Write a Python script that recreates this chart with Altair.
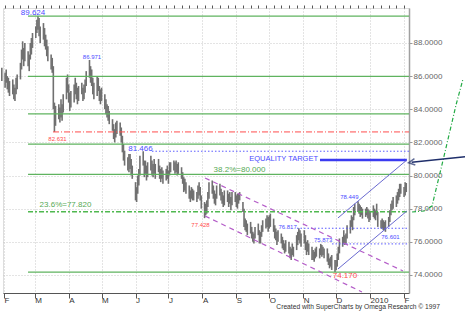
import altair as alt
import pandas as pd

FONT = "Liberation Sans"

# Daily low / high (Jan 30 2009 .. Feb 3 2010, weekdays)
LOWS = [
    85.7,
    85.3, 85.6, 85.2, 85.0, 84.8,
    84.9, 84.6, 84.5, 84.9, 85.2,
    85.8, 86.4, 87.0, 86.6, 86.9,
    86.6, 86.3, 87.0, 87.3, 87.7,
    88.3, 88.6, 88.8, 88.4, 88.0,
    88.2, 87.8, 87.6, 87.2, 86.9,
    86.4, 86.2, 84.0, 82.631, 83.0,
    83.4, 83.2, 83.5, 83.3, 83.8,
    84.6, 85.0, 84.4, 83.9, 84.1,
    84.4, 84.9, 84.6, 84.3, 84.5,
    84.9, 84.5, 84.6, 85.0, 85.4,
    85.9, 85.6, 85.4, 84.9, 84.6,
    84.8, 85.1, 84.5, 84.3, 84.5,
    84.0, 83.7, 83.5, 83.3, 83.1,
    82.7, 82.2, 82.0, 82.3, 82.5,
    82.4, 82.0, 81.4, 80.9, 80.6,
    80.3, 80.2, 80.4, 80.0, 79.8,
    78.5, 78.4, 78.9, 79.4, 80.0,
    80.6, 79.9, 80.1, 79.7, 79.9,
    80.3, 80.0, 79.9, 80.1, 79.8,
    80.2, 79.8, 79.6, 79.8, 79.5,
    79.7, 79.8, 79.5, 80.0, 80.2,
    80.3, 80.1, 80.2, 80.0, 80.1,
    79.8, 79.5, 79.0, 79.1, 78.9,
    78.6, 78.4, 78.6, 78.5, 78.5,
    78.4, 78.6, 78.8, 78.5, 78.0,
    77.428, 77.6, 77.7, 78.1, 78.6,
    78.9, 78.6, 78.3, 78.2, 78.6,
    78.8, 78.5, 78.3, 78.1, 78.2,
    78.4, 78.1, 78.3, 77.9, 78.2,
    78.4, 78.1, 78.0, 78.3, 78.5,
    77.8, 76.9, 76.7, 76.6, 76.4,
    76.5, 76.2, 76.0, 75.9, 76.2,
    76.4, 75.9, 75.9, 76.3, 76.6,
    76.8, 76.9, 76.6, 76.8, 76.9,
    76.6, 76.2, 76.1, 75.8, 76.0,
    75.9, 75.6, 75.5, 75.3, 75.4,
    75.3, 75.0, 74.9, 75.2, 75.1,
    75.5, 75.8, 76.1, 75.9, 75.7,
    75.9, 75.5, 75.2, 75.4, 75.2,
    74.9, 74.9, 74.8, 75.0, 75.1,
    75.0, 75.2, 75.1, 75.2, 75.0,
    74.8, 74.6, 74.4, 74.5, 74.3,
    74.17, 74.3, 74.5, 74.9, 75.3,
    75.7, 75.9, 75.8, 75.9, 76.2,
    76.5, 76.9, 76.7, 77.3, 77.6,
    77.8, 77.7, 77.5, 77.6, 77.4,
    77.5, 77.6, 77.4, 77.2, 77.3,
    77.5, 77.4, 77.3, 77.6, 76.9,
    76.8, 76.8, 76.7, 76.7, 76.601,
    76.9, 77.2, 77.6, 77.9, 78.0,
    78.1, 78.3, 78.5, 78.7, 78.9,
    78.7, 78.8, 79.0,
]
HIGHS = [
    86.5,
    86.2, 86.4, 86.0, 85.9, 85.7,
    85.8, 85.5, 85.3, 85.9, 86.1,
    86.8, 87.6, 88.1, 87.7, 88.0,
    87.5, 87.3, 88.0, 88.3, 88.6,
    89.0, 89.4, 89.624, 89.5, 89.0,
    89.2, 88.9, 88.5, 88.2, 87.8,
    87.3, 87.1, 86.6, 84.4, 84.2,
    84.3, 84.1, 84.6, 84.3, 84.9,
    85.9, 86.1, 85.5, 85.0, 85.1,
    85.5, 85.9, 85.6, 85.3, 85.4,
    85.6, 85.3, 85.5, 85.8, 86.3,
    86.971, 86.6, 86.4, 85.9, 85.6,
    86.0, 85.9, 85.4, 85.2, 85.3,
    84.9, 84.6, 84.3, 84.2, 83.9,
    83.4, 83.1, 82.8, 83.2, 83.3,
    83.2, 82.9, 82.4, 81.9, 81.5,
    81.1, 81.3, 81.3, 81.0, 80.6,
    79.6, 79.3, 80.0, 80.4, 81.2,
    81.466, 80.9, 80.9, 80.6, 80.8,
    81.2, 80.9, 80.7, 81.0, 80.7,
    81.0, 80.6, 80.4, 80.5, 80.3,
    80.4, 80.6, 80.3, 80.8, 80.8,
    80.9, 80.8, 80.9, 80.7, 80.8,
    80.5, 80.2, 79.9, 79.8, 79.6,
    79.4, 79.1, 79.3, 79.2, 79.1,
    79.0, 79.4, 79.6, 79.3, 78.8,
    78.4, 78.3, 78.5, 79.0, 79.6,
    79.7, 79.4, 79.1, 78.9, 79.4,
    79.5, 79.2, 79.0, 78.8, 79.1,
    79.1, 78.9, 79.0, 78.7, 79.0,
    79.0, 78.8, 78.9, 78.9, 79.0,
    78.4, 78.0, 77.4, 77.3, 77.1,
    77.2, 76.9, 76.6, 76.5, 76.9,
    77.1, 76.7, 76.6, 77.0, 77.3,
    77.4, 77.6, 77.5, 77.6, 77.7,
    77.4, 77.0, 76.8, 76.6, 76.7,
    76.5, 76.3, 76.1, 75.9, 76.1,
    76.0, 75.7, 75.6, 75.9, 75.7,
    76.4, 76.6, 76.817, 76.7, 76.5,
    76.7, 76.4, 76.0, 76.1, 75.9,
    75.7, 75.5, 75.4, 75.6, 75.7,
    75.6, 75.873, 75.8, 75.7, 75.6,
    75.6, 75.3, 75.0, 75.1, 75.2,
    74.9, 74.9, 75.3, 75.7, 76.2,
    76.3, 76.7, 76.4, 76.5, 77.0,
    77.3, 77.6, 77.5, 78.1, 78.3,
    78.449, 78.3, 78.2, 78.1, 78.0,
    78.0, 78.1, 78.0, 77.9, 77.8,
    78.2, 78.0, 77.9, 78.3, 77.8,
    77.3, 77.4, 77.3, 77.2, 77.3,
    77.5, 77.9, 78.3, 78.5, 78.7,
    78.8, 79.0, 79.2, 79.5, 79.5,
    79.3, 79.6, 79.55,
]

# Fibonacci retracement levels (solid green) and 23.6% (dash-dot green)
FIB_SOLID = [89.624, 85.98, 83.72, 81.90, 80.07, 74.170]
FIB_236 = [77.82]
FIB_START = "2009-02-22T22:00:00"
RED_LEVEL = [82.631]
RED_START = "2009-03-17T17:00:00"
BLUE_DOT_LEVELS = [81.466, 76.817, 75.873]
BLUE_DOT_STARTS = ["2009-06-16T00:00:00", "2009-10-26T07:00:00", "2009-11-27T07:00:00"]
TARGET_LEVEL = [80.93]
TARGET_START = "2009-11-16T07:00:00"
TARGET_END = "2010-02-03T14:00:00"
END = "2010-02-05T12:00:00"

# Trend channels (date, price)
PURPLE_ID = ["u", "u", "l", "l"]
PURPLE_D = ["2009-08-03T10:00:00", "2010-01-31T01:00:00", "2009-08-03T10:00:00", "2009-12-24T14:00:00"]
PURPLE_P = [79.85, 74.24, 77.56, 72.97]
BLUE_ID = ["u", "u", "l", "l"]
BLUE_D = ["2009-12-02T17:00:00", "2010-02-03T14:00:00", "2009-12-02T17:00:00", "2010-02-03T14:00:00"]
BLUE_P = [77.44, 80.94, 74.36, 77.86]

# Projection curve (green) and arrow (navy), right of the price axis
PROJ_D = ["2010-02-08T07:00:00", "2010-02-19T05:00:00", "2010-02-26T12:00:00",
          "2010-03-09T12:00:00", "2010-03-20T10:00:00", "2010-03-26T19:00:00"]
PROJ_P = [77.80, 77.86, 78.16, 81.18, 84.26, 85.83]
ARROW_D = ["2010-03-28T14:00:00", "2010-02-08T00:00:00"]
ARROW_P = [81.14, 80.80]

XS = alt.Scale(domain=[alt.DateTime(year=2009, month=1, date=31, hours=2),
                       alt.DateTime(year=2010, month=2, date=5, hours=12)], nice=False)
YS = alt.Scale(domain=[72.91, 90.11], nice=False, zero=False)

dates = pd.bdate_range("2009-01-30", periods=len(LOWS))
bars_df = pd.DataFrame({"date": dates.strftime("%Y-%m-%dT%H:%M:%S"), "low": LOWS, "high": HIGHS})

month_vals = [alt.DateTime(year=2009, month=m, date=1) for m in range(2, 13)] + \
             [alt.DateTime(year=2010, month=1, date=1), alt.DateTime(year=2010, month=2, date=1)]
week_vals = [alt.DateTime(year=d.year, month=d.month, date=d.day)
             for d in pd.date_range("2009-02-02", "2010-02-01", freq="7D")]

x_axis = alt.Axis(values=month_vals, title=None, orient="bottom",
                  labelExpr="month(datum.value) == 0 ? timeFormat(datum.value, '%Y') : slice(timeFormat(datum.value, '%b'), 0, 1)",
                  labelAlign="left", labelPadding=-2, labelFontSize=8, labelFont=FONT, labelColor="#333",
                  tickSize=5, tickColor="#555", domainColor="#555", domainWidth=1,
                  grid=True, gridDash=[1, 2], gridColor="#c8c8c8", labelFlush=False, labelOverlap=False)
y_axis = alt.Axis(values=[74, 76, 78, 80, 82, 84, 86, 88], format=".4f", orient="right", title=None,
                  labelFontSize=8, labelFont=FONT, labelColor="#666", labelPadding=1,
                  tickSize=3, tickColor="#999", domainColor="#a0a0a0", domainWidth=1.5,
                  grid=True, gridDash=[1, 2], gridColor="#c8c8c8")

bars = alt.Chart(bars_df).mark_rule(color="#707070", strokeWidth=1.6).encode(
    x=alt.X("date:T", scale=XS, axis=x_axis),
    y=alt.Y("low:Q", scale=YS, axis=y_axis),
    y2="high:Q",
)

minor = alt.Chart(pd.DataFrame({"d": ["2009-06-01T00:00:00"], "p": [80.0]})).mark_point(opacity=0).encode(
    x=alt.X("d:T", scale=XS, axis=alt.Axis(values=week_vals, labels=False, title=None, domain=False,
                                           grid=False, tickSize=3, tickColor="#555")),
    y=alt.Y("p:Q", scale=YS, axis=None),
)


def hlines(levels, starts, ends, color, width, dash=None):
    df = pd.DataFrame({"lvl": levels, "s": starts, "e": ends})
    kw = dict(color=color, strokeWidth=width)
    if dash:
        kw["strokeDash"] = dash
    return alt.Chart(df).mark_rule(**kw).encode(
        x=alt.X("s:T", scale=XS, axis=None), x2="e:T",
        y=alt.Y("lvl:Q", scale=YS, axis=None))


def path(ids, ds, ps, color, width, dash=None, clip=True):
    df = pd.DataFrame({"id": ids, "d": ds, "p": ps, "o": list(range(len(ids)))})
    kw = dict(color=color, strokeWidth=width, clip=clip)
    if dash:
        kw["strokeDash"] = dash
    return alt.Chart(df).mark_line(**kw).encode(
        x=alt.X("d:T", scale=XS, axis=None), y=alt.Y("p:Q", scale=YS, axis=None),
        detail="id:N", order="o:Q")


def labels(texts, ds, ps, color, size, align="center"):
    df = pd.DataFrame({"t": texts, "d": ds, "p": ps})
    return alt.Chart(df).mark_text(color=color, fontSize=size, font=FONT, align=align,
                                   baseline="middle", clip=False).encode(
        x=alt.X("d:T", scale=XS, axis=None), y=alt.Y("p:Q", scale=YS, axis=None), text="t:N")


GREEN = "#5fb35f"
BLUE_TXT = "#4b4bff"
RED = "#ff4d4d"

layers = [
    bars, minor,
    hlines(FIB_SOLID, [FIB_START] * len(FIB_SOLID), [END] * len(FIB_SOLID), GREEN, 1.3),
    hlines(FIB_236, [FIB_START], [END], "#4fb84f", 1.5, [5, 2, 2, 2]),
    hlines(RED_LEVEL, [RED_START], [END], RED, 1, [6, 2, 1, 2]),
    hlines(BLUE_DOT_LEVELS, BLUE_DOT_STARTS, [END] * 3, "#5a5aff", 1, [1.5, 2]),
    hlines(TARGET_LEVEL, [TARGET_START], [TARGET_END], "#3b3bf0", 2.5),
    path(PURPLE_ID, PURPLE_D, PURPLE_P, "#b45cc8", 1.2, [5, 4]),
    path(BLUE_ID, BLUE_D, BLUE_P, "#6a6ad0", 1),
    path(["a"] * len(PROJ_D), PROJ_D, PROJ_P, "#22aa44", 1.2, [4, 2, 1, 2], clip=False),
    path(["a", "a"], ARROW_D, ARROW_P, "#1f2f6b", 1.5, clip=False),
    alt.Chart(pd.DataFrame({"d": [ARROW_D[1]], "p": [ARROW_P[1]]})).mark_point(
        shape="M 1 -1 L -1 0 L 1 1", size=40, filled=False, color="#1f2f6b", strokeWidth=1.5,
        angle=352, clip=False).encode(
        x=alt.X("d:T", scale=XS, axis=None), y=alt.Y("p:Q", scale=YS, axis=None)),
    labels(["89.624"], ["2009-02-27T11:00:00"], [89.81], BLUE_TXT, 8),
    labels(["81.466"], ["2009-06-05T12:00:00"], [81.63], BLUE_TXT, 8),
    labels(["EQUALITY TARGET"], ["2009-11-14T12:00:00"], [80.97], BLUE_TXT, 7.5, "right"),
    labels(["86.971", "76.817", "75.873", "78.449", "76.601"],
           ["2009-04-22T07:00:00", "2009-10-17T17:00:00", "2009-11-19T02:00:00",
            "2009-12-13T02:00:00", "2010-01-19T14:00:00"],
           [87.16, 76.90, 76.11, 78.68, 76.26], BLUE_TXT, 6),
    labels(["82.631", "77.428"], ["2009-03-21T19:00:00", "2009-07-30T07:00:00"],
           [82.21, 77.02], RED, 6),
    labels(["74.170"], ["2009-12-09T02:00:00"], [73.92], RED, 8),
    labels(["38.2%=80.000", "23.6%=77.820"], ["2009-09-03T21:00:00", "2009-03-29T02:00:00"],
           [80.36, 78.25], "#55aa55", 8),
]

chart = alt.layer(*layers).resolve_axis(x="independent", y="independent").properties(
    width=406, height=285,
    padding={"left": 3, "top": 8, "right": 56, "bottom": 28},
    autosize="none",
    title=alt.TitleParams(text="Created with SuperCharts by Omega Research © 1997", orient="bottom",
                          anchor="end", frame="group", fontSize=6.7, font=FONT, fontWeight="normal",
                          color="#333", offset=0, dx=31),
).configure_view(strokeWidth=0).configure(background="white")

chart.save("out.html", embed_options={"renderer": "svg", "actions": False})
